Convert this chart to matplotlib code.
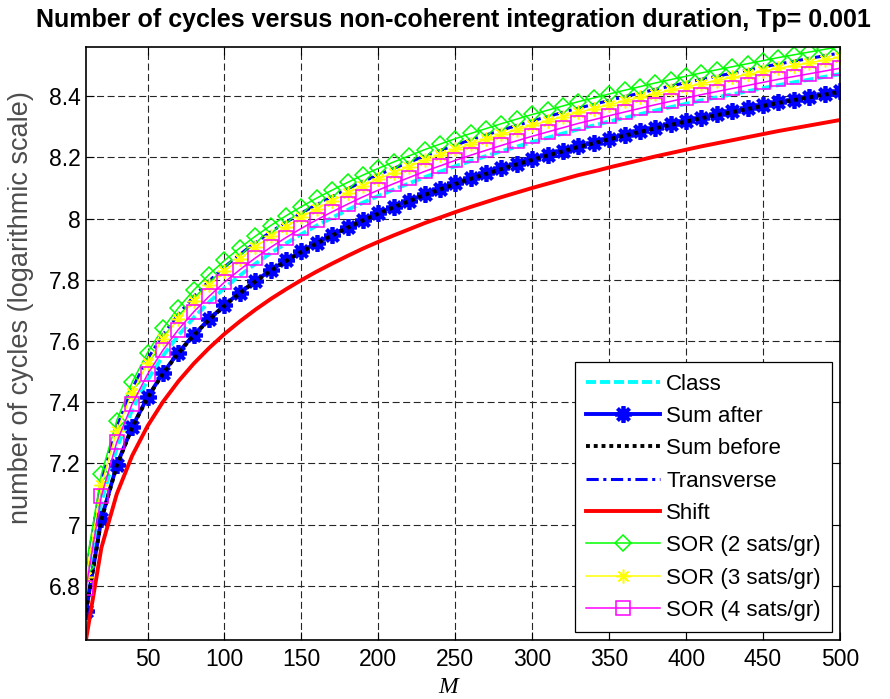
import numpy as np
import matplotlib
matplotlib.use("Agg")
import matplotlib.pyplot as plt
from matplotlib.ticker import MultipleLocator, FormatStrFormatter

plt.rcParams['font.family'] = ['Liberation Sans', 'DejaVu Sans']

# non-coherent integration lengths
M = list(range(10, 501, 10))

# number of cycles (log10) for each acquisition scheme
cls = [6.773, 7.074, 7.250, 7.375, 7.472, 7.551, 7.618, 7.676, 7.727, 7.773,
       7.814, 7.852, 7.887, 7.919, 7.949, 7.977, 8.003, 8.028, 8.052, 8.074,
       8.095, 8.115, 8.135, 8.153, 8.171, 8.188, 8.204, 8.220, 8.235, 8.250,
       8.264, 8.278, 8.292, 8.304, 8.317, 8.329, 8.341, 8.353, 8.364, 8.375,
       8.386, 8.396, 8.406, 8.416, 8.426, 8.436, 8.445, 8.454, 8.463, 8.472]
sum_after = [6.717, 7.018, 7.194, 7.319, 7.416, 7.495, 7.562, 7.620, 7.671, 7.717,
             7.758, 7.796, 7.831, 7.863, 7.893, 7.921, 7.947, 7.972, 7.996, 8.018,
             8.039, 8.059, 8.079, 8.097, 8.115, 8.132, 8.148, 8.164, 8.179, 8.194,
             8.208, 8.222, 8.236, 8.248, 8.261, 8.273, 8.285, 8.297, 8.308, 8.319,
             8.330, 8.340, 8.350, 8.360, 8.370, 8.380, 8.389, 8.398, 8.407, 8.416]
sum_before = [6.715, 7.016, 7.192, 7.317, 7.414, 7.493, 7.560, 7.618, 7.669, 7.715,
              7.756, 7.794, 7.829, 7.861, 7.891, 7.919, 7.945, 7.970, 7.994, 8.016,
              8.037, 8.057, 8.077, 8.095, 8.113, 8.130, 8.146, 8.162, 8.177, 8.192,
              8.206, 8.220, 8.234, 8.246, 8.259, 8.271, 8.283, 8.295, 8.306, 8.317,
              8.328, 8.338, 8.348, 8.358, 8.368, 8.378, 8.387, 8.396, 8.405, 8.414]
transverse = [6.842, 7.143, 7.319, 7.444, 7.541, 7.620, 7.687, 7.745, 7.796, 7.842,
              7.883, 7.921, 7.956, 7.988, 8.018, 8.046, 8.072, 8.097, 8.121, 8.143,
              8.164, 8.184, 8.204, 8.222, 8.240, 8.257, 8.273, 8.289, 8.304, 8.319,
              8.333, 8.347, 8.361, 8.373, 8.386, 8.398, 8.410, 8.422, 8.433, 8.444,
              8.455, 8.465, 8.475, 8.485, 8.495, 8.505, 8.514, 8.523, 8.532, 8.541]
shift = [6.623, 6.924, 7.100, 7.225, 7.322, 7.401, 7.468, 7.526, 7.577, 7.623,
         7.664, 7.702, 7.737, 7.769, 7.799, 7.827, 7.853, 7.878, 7.902, 7.924,
         7.945, 7.965, 7.985, 8.003, 8.021, 8.038, 8.054, 8.070, 8.085, 8.100,
         8.114, 8.128, 8.142, 8.154, 8.167, 8.179, 8.191, 8.203, 8.214, 8.225,
         8.236, 8.246, 8.256, 8.266, 8.276, 8.286, 8.295, 8.304, 8.313, 8.322]
sor2 = [6.863, 7.164, 7.340, 7.465, 7.562, 7.641, 7.708, 7.766, 7.817, 7.863,
        7.904, 7.942, 7.977, 8.009, 8.039, 8.067, 8.093, 8.118, 8.142, 8.164,
        8.185, 8.205, 8.225, 8.243, 8.261, 8.278, 8.294, 8.310, 8.325, 8.340,
        8.354, 8.368, 8.382, 8.394, 8.407, 8.419, 8.431, 8.443, 8.454, 8.465,
        8.476, 8.486, 8.496, 8.506, 8.516, 8.526, 8.535, 8.544, 8.553, 8.562]
sor3 = [6.828, 7.129, 7.305, 7.430, 7.527, 7.606, 7.673, 7.731, 7.782, 7.828,
        7.869, 7.907, 7.942, 7.974, 8.004, 8.032, 8.058, 8.083, 8.107, 8.129,
        8.150, 8.170, 8.190, 8.208, 8.226, 8.243, 8.259, 8.275, 8.290, 8.305,
        8.319, 8.333, 8.347, 8.359, 8.372, 8.384, 8.396, 8.408, 8.419, 8.430,
        8.441, 8.451, 8.461, 8.471, 8.481, 8.491, 8.500, 8.509, 8.518, 8.527]
sor4 = [6.792, 7.093, 7.269, 7.394, 7.491, 7.570, 7.637, 7.695, 7.746, 7.792,
        7.833, 7.871, 7.906, 7.938, 7.968, 7.996, 8.022, 8.047, 8.071, 8.093,
        8.114, 8.134, 8.154, 8.172, 8.190, 8.207, 8.223, 8.239, 8.254, 8.269,
        8.283, 8.297, 8.311, 8.323, 8.336, 8.348, 8.360, 8.372, 8.383, 8.394,
        8.405, 8.415, 8.425, 8.435, 8.445, 8.455, 8.464, 8.473, 8.482, 8.491]

labels = ['Class', 'Sum after', 'Sum before', 'Transverse', 'Shift',
          'SOR (2 sats/gr)', 'SOR (3 sats/gr)', 'SOR (4 sats/gr)']

fig = plt.figure(figsize=(8.9, 6.99), dpi=100)
ax = fig.add_axes([0.0966, 0.0844, 0.8472, 0.849])

asterisk = (8, 2, 0)
ax.plot(M, cls, color=(0, 1, 1), lw=2.8, ls=(0, (2.6, 1.0)), label=labels[0])
ax.plot(M, sum_after, color=(0, 0, 1), lw=2.8, marker=asterisk, ms=12, mew=2.7,
        label=labels[1])
ax.plot(M, sum_before, color='black', lw=2.8, ls=(0, (1.0, 1.0)), label=labels[2])
ax.plot(M, transverse, color=(0, 0, 1), lw=2.2, ls=(0, (4, 1.5, 1, 1.5)),
        label=labels[3])
ax.plot(M, shift, color=(1, 0, 0), lw=2.8, label=labels[4])
ax.plot(M, sor2, color=(0, 1, 0), lw=1.1, marker='D', ms=8.5, mfc='none', mew=1.1,
        label=labels[5])
ax.plot(M, sor3, color=(1, 1, 0), lw=1.1, marker=asterisk, ms=10, mew=1.1,
        label=labels[6])
ax.plot(M, sor4, color=(1, 0, 1), lw=1.1, marker='s', ms=9.5, mfc='none', mew=1.1,
        label=labels[7])

# axis tight on the data, MATLAB style
all_y = np.concatenate([cls, sum_after, sum_before, transverse, shift, sor2, sor3, sor4])
ax.set_xlim(M[0], M[-1])
ax.set_ylim(all_y.min(), all_y.max())
ax.xaxis.set_major_locator(MultipleLocator(50))
ax.yaxis.set_major_locator(MultipleLocator(0.2))
ax.yaxis.set_major_formatter(FormatStrFormatter('%g'))

ax.grid(True, color='0.15', lw=0.8, ls=(0, (6.3, 3.2)))
ax.set_axisbelow(True)
ax.tick_params(direction='in', top=True, right=True, length=5.5, width=0.8,
               labelsize=16.5)
ax.tick_params(axis='x', pad=6)
ax.tick_params(axis='y', pad=4)
for s in ax.spines.values():
    s.set_linewidth(1.2)

fig.text(0.509, 0.971,
         'Number of cycles versus non-coherent integration duration, Tp= 0.001',
         ha='center', va='center', fontsize=18, fontweight='bold')

ax.set_xlabel('M', fontsize=17, family='Liberation Serif', style='italic')
ax.xaxis.set_label_coords(0.480, -0.080)
ax.xaxis.label.set_va('center')

ax.set_ylabel('number of cycles (logarithmic scale)', fontsize=19.5, color='0.3')
ax.yaxis.set_label_coords(-0.086, 0.560)
ax.yaxis.label.set_va('center')

leg = ax.legend(loc='lower right', fontsize=16, handlelength=3.3,
                handletextpad=0.3, labelspacing=0.51, borderpad=0.5,
                borderaxespad=0.36, fancybox=False, framealpha=1,
                edgecolor='black', numpoints=1)
leg.get_frame().set_linewidth(0.9)

fig.savefig('out.png', dpi=100)
